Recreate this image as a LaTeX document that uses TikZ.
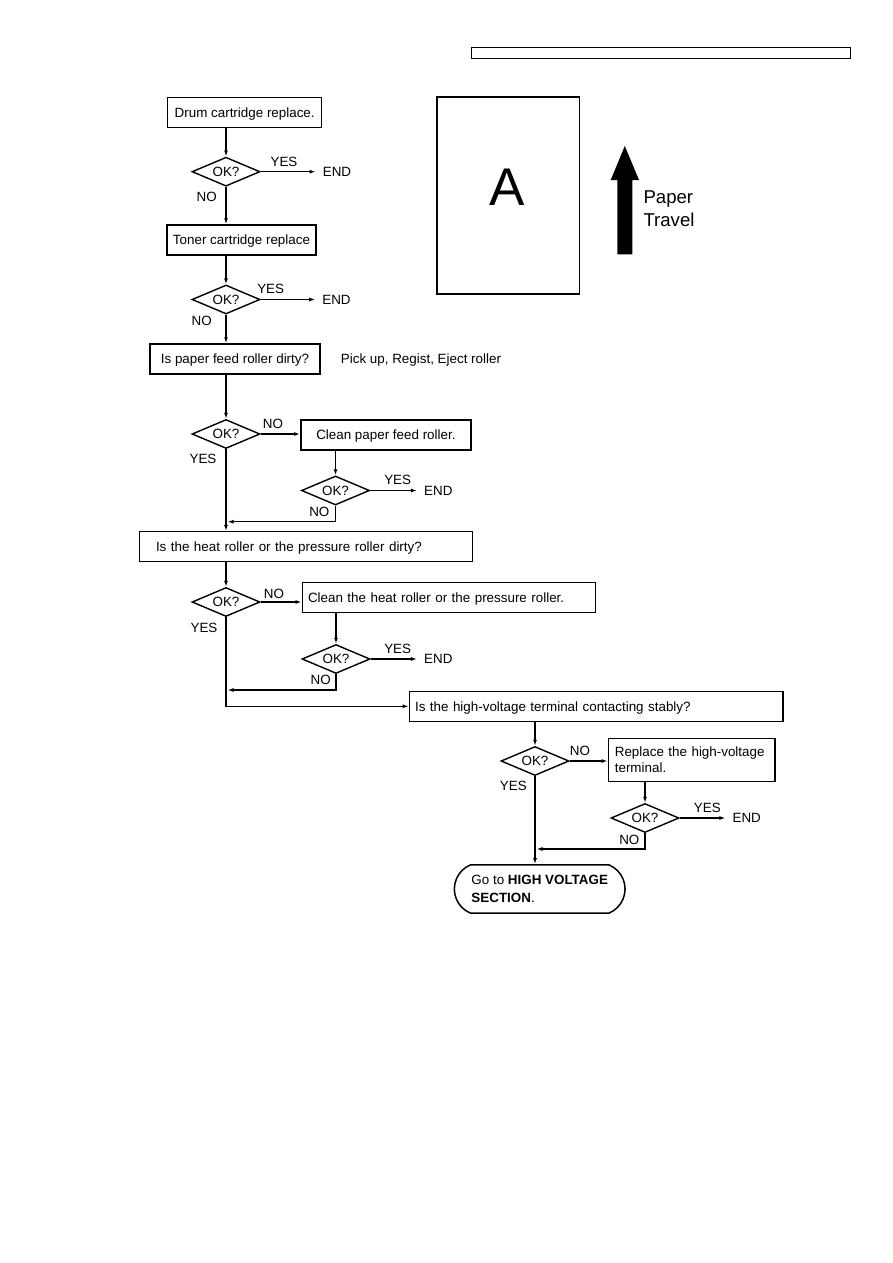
\documentclass[tikz,border=0pt]{standalone}
\usepackage{fontspec}
\setmainfont{Liberation Sans}
\usetikzlibrary{shapes.geometric,shapes.misc,arrows.meta}
\begin{document}
\begin{tikzpicture}[x=1pt,y=-1pt,
  font=\fontsize{13.4}{15.6}\selectfont,
  box/.style={draw, line width=1.5pt, inner sep=0pt, minimum height=30pt, text height=9.6pt, text depth=0pt},
  mbox/.style={draw, line width=1.5pt, inner sep=0pt},
  dia/.style={diamond, draw, line width=1.4pt, minimum width=68pt, minimum height=29pt, inner sep=0pt, aspect=2.3, text height=9.6pt, text depth=0pt},
  lab/.style={inner sep=0pt, text height=9.6pt, text depth=0pt},
  endn/.style={inner xsep=7pt, inner ysep=0pt, text height=9.6pt, text depth=0pt},
  conn/.style={line width=1.4pt, -{Latex[length=6pt,width=4pt]}}
]
\useasboundingbox (0,0) rectangle (893,1263);

% header box
\node[draw, line width=1pt, minimum width=379pt, minimum height=11pt, inner sep=0pt] (hdr) at (660.5,52.8) {};

% A box and paper travel arrow
\node[draw, line width=1.6pt, minimum width=142.6pt, minimum height=197.3pt, inner sep=0pt] (abox) at (508,195.35) {};
\node[inner sep=0pt] (aletter) at (507.3,187.3) {\fontsize{53}{53}\selectfont A};
\fill (617.3,254.3) -- (632.3,254.3) -- (632.3,180) -- (639,180) -- (624.8,146) -- (610.7,180) -- (617.3,180) -- cycle;
\node[anchor=west, inner sep=0pt, font=\fontsize{18.6}{20.7}\selectfont] (paper1) at (643.3,199) {Paper};
\node[anchor=west, inner sep=0pt, font=\fontsize{18.6}{20.7}\selectfont] (travel) at (643.3,219.7) {Travel};

% boxes
\node[box, minimum width=154pt] (drum) at (244.7,112.7) {Drum cartridge replace.};
\node[box, minimum width=149pt] (toner) at (241.5,240) {Toner cartridge replace};
\node[box, minimum width=170pt] (paper) at (235,359) {Is paper feed roller dirty?};
\node[anchor=west, lab] (pickup) at (340.7,359) {Pick up, Regist, Eject roller};
\node[box, minimum width=170.3pt] (cleanpf) at (385.9,435) {Clean paper feed roller.};
\node[box, text width=299.6pt, inner xsep=16.7pt, align=left] (heat) at (305.8,546.7) {Is the heat roller or the pressure roller dirty?};
\node[box, text width=282pt, inner xsep=5.7pt, align=left] (cleanheat) at (449,597.5) {Clean the heat roller or the pressure roller.};
\node[box, text width=362.3pt, inner xsep=5.7pt, align=left] (hv) at (596.2,706.3) {Is the high-voltage terminal contacting stably?};
\node[mbox, minimum height=43.4pt, text width=153.7pt, inner xsep=6.5pt, align=left] (replace) at (691.7,760) {Replace the high-voltage\\terminal.};
\node[draw, line width=1.5pt, rounded rectangle, rounded rectangle arc length=135, minimum width=170.7pt, minimum height=48.3pt, inner sep=0pt, align=left, font=\fontsize{13.4}{17.6}\selectfont] (term) at (539.7,889) {Go to \textbf{HIGH VOLTAGE}\\\textbf{SECTION}.};

% diamonds
\node[dia] (d1) at (226,171.7) {OK?};
\node[dia] (d2) at (226,299.5) {OK?};
\node[dia] (d3) at (226,434) {OK?};
\node[dia] (d4) at (335.5,490.5) {OK?};
\node[dia] (d5) at (226,602) {OK?};
\node[dia] (d6) at (336,659) {OK?};
\node[dia] (d7) at (535,761) {OK?};
\node[dia] (d8) at (645,818) {OK?};

% END nodes
\node[endn] (end1) at (337,171.7) {END};
\node[endn] (end2) at (336.5,299.5) {END};
\node[endn] (end4) at (438.3,490.5) {END};
\node[endn] (end6) at (438.3,659) {END};
\node[endn] (end8) at (746.7,818) {END};

% YES / NO labels
\node[lab] (yes1) at (284,161.7) {YES};
\node[lab] (no1) at (206.7,196.7) {NO};
\node[lab] (yes2) at (270.7,288.3) {YES};
\node[lab] (no2) at (201.7,321) {NO};
\node[lab] (no3) at (273,424) {NO};
\node[lab] (yes3) at (203,458.3) {YES};
\node[lab] (yes4) at (397.7,480) {YES};
\node[lab] (no4) at (319.3,511.7) {NO};
\node[lab] (no5) at (274,593.3) {NO};
\node[lab] (yes5) at (204,627.3) {YES};
\node[lab] (yes6) at (397.7,648.3) {YES};
\node[lab] (no6) at (320.7,680) {NO};
\node[lab] (no7) at (580,751) {NO};
\node[lab] (yes7) at (513.3,786) {YES};
\node[lab] (yes8) at (707.3,807.3) {YES};
\node[lab] (no8) at (629.3,839.3) {NO};

% junctions
\coordinate (j1) at (227.5,521.7);
\coordinate (j2) at (227.5,690);
\coordinate (j3) at (536.5,849);

% connectors
\draw[conn] (drum.south -| d1.north) -- (d1.north);
\draw[conn] (d1.east) -- (d1.east -| end1.west);
\draw[conn] (d1.south) -- (d1.south |- toner.north);
\draw[conn] (toner.south -| d2.north) -- (d2.north);
\draw[conn] (d2.east) -- (d2.east -| end2.west);
\draw[conn] (d2.south) -- (d2.south |- paper.north);
\draw[conn] (paper.south -| d3.north) -- (d3.north);
\draw[conn] (d3.east) -- (d3.east -| cleanpf.west);
\draw[conn] (cleanpf.south -| d4.north) -- (d4.north);
\draw[conn] (d4.east) -- (d4.east -| end4.west);
\draw[conn] (d4.south) |- (j1);
\draw[conn] (d3.south) -- (d3.south |- heat.north);
\draw[conn] (heat.south -| d5.north) -- (d5.north);
\draw[conn] (d5.east) -- (d5.east -| cleanheat.west);
\draw[conn] (cleanheat.south -| d6.north) -- (d6.north);
\draw[conn] (d6.east) -- (d6.east -| end6.west);
\draw[conn] (d6.south) |- (j2);
\draw[conn] (d5.south) |- (hv.west);
\draw[conn] (hv.south -| d7.north) -- (d7.north);
\draw[conn] (d7.east) -- (d7.east -| replace.west);
\draw[conn] (replace.south -| d8.north) -- (d8.north);
\draw[conn] (d8.east) -- (d8.east -| end8.west);
\draw[conn] (d8.south) |- (j3);
\draw[conn] (d7.south) -- (d7.south |- term.north);
\end{tikzpicture}
\end{document}
